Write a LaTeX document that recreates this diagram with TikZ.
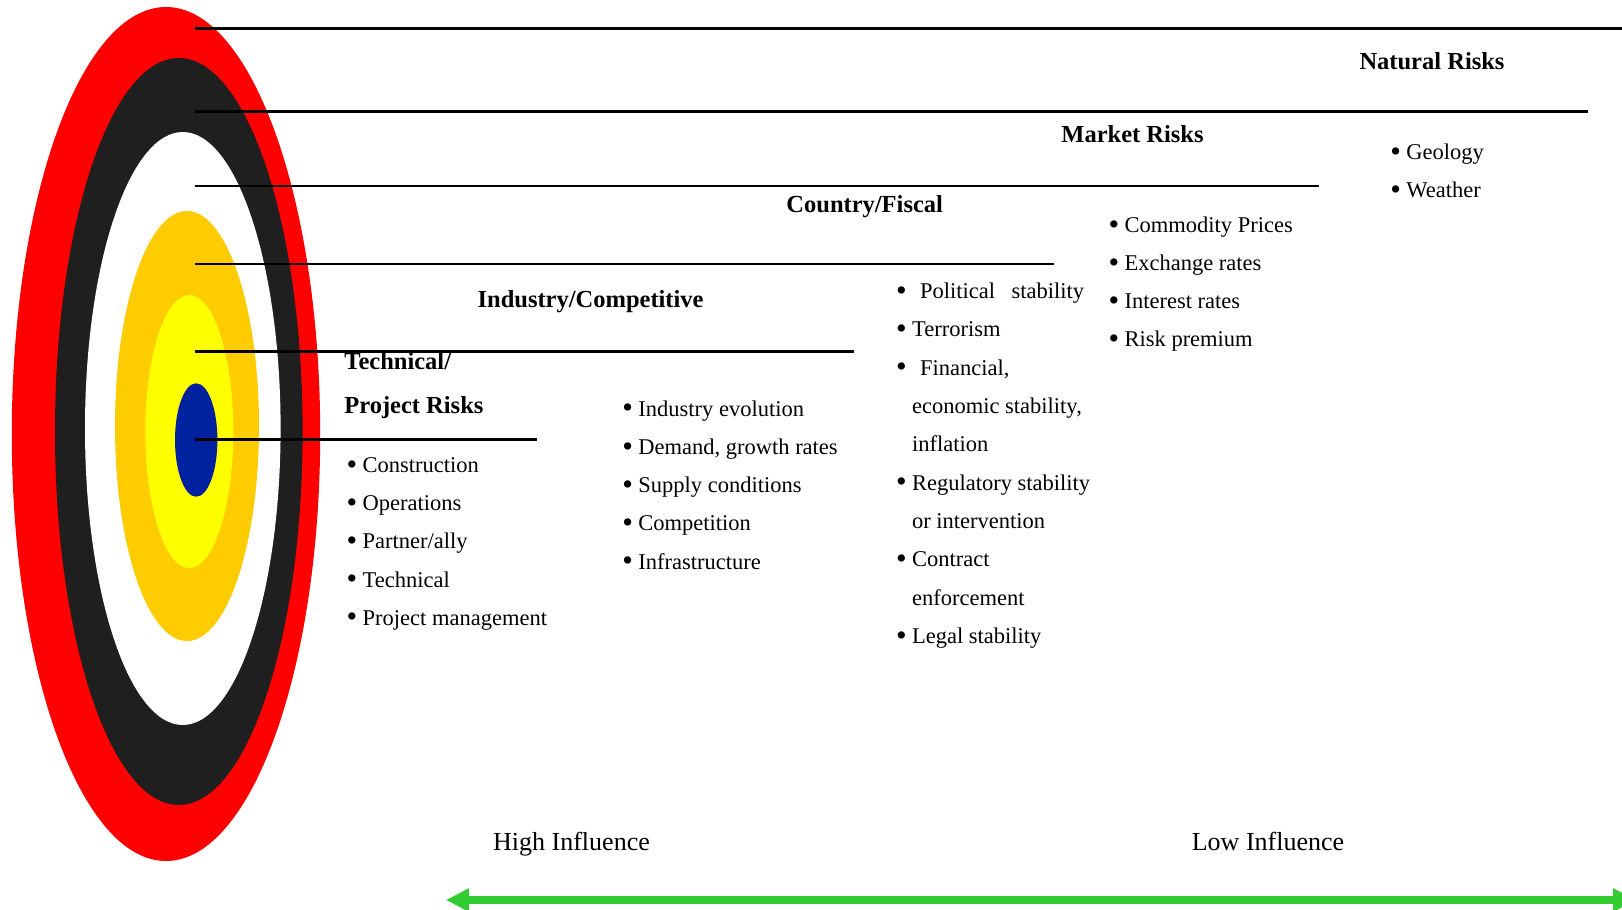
\documentclass[tikz,border=0pt]{standalone}
\usepackage{fontspec}
\usepackage{graphicx}
\setmainfont{Liberation Serif}
\usetikzlibrary{arrows.meta}

\definecolor{ringred}{HTML}{FF0000}
\definecolor{ringblack}{HTML}{1F1F1F}
\definecolor{ringgold}{HTML}{FFCC00}
\definecolor{ringyellow}{HTML}{FFFF00}
\definecolor{ringblue}{HTML}{00229E}
\definecolor{scalegreen}{HTML}{33CC33}

% enlarged list bullet in a fixed-width box
\newcommand\itembul{\makebox[8pt][l]{\raisebox{-0.08em}{\scalebox{1.35}{\textbullet}}}}

\begin{document}
\begin{tikzpicture}[x=0.5pt,y=-0.5pt,
  itm/.style={anchor=base west, inner sep=0pt, font=\fontsize{11.25pt}{13pt}\selectfont},
  hdr/.style={anchor=base, inner sep=0pt, font=\fontsize{12.25pt}{14pt}\selectfont\bfseries},
  hdrl/.style={hdr, anchor=base west},
  infl/.style={anchor=base, inner sep=0pt, font=\fontsize{13pt}{15pt}\selectfont},
  rule/.style={draw=black, line width=1.4pt},
  scale arrow/.style={draw=scalegreen, line width=4pt,
    {Triangle[length=11.5pt,width=11pt]}-{Triangle[length=11.5pt,width=11pt]}}]

\clip (0,0) rectangle (1622,910);

% target rings, outermost first
\fill[ringred]    (166,434)     ellipse [x radius=77.1pt, y radius=213.5pt];
\fill[ringblack]  (178.8,431.5) ellipse [x radius=61.9pt, y radius=186.75pt];
\fill[white]      (182.8,428.5) ellipse [x radius=48.9pt, y radius=148.25pt];
\fill[ringgold]   (187,426)     ellipse [x radius=36pt,   y radius=107.5pt];
\fill[ringyellow] (189.3,431.5) ellipse [x radius=22pt,   y radius=68.25pt];
\fill[ringblue]   (196.2,440)   ellipse [x radius=10.6pt, y radius=28.35pt];

% band boundaries
\coordinate (r1a) at (195,28.3);   \coordinate (r1b) at (1640,28.3);
\coordinate (r2a) at (195,111.7);  \coordinate (r2b) at (1588.3,111.7);
\coordinate (r3a) at (195,186);    \coordinate (r3b) at (1319.3,186);
\coordinate (r4a) at (195,264);    \coordinate (r4b) at (1054.3,264);
\coordinate (r5a) at (195,351.7);  \coordinate (r5b) at (854,351.7);
\coordinate (r6a) at (195,439.3);  \coordinate (r6b) at (537.3,439.3);
\draw[rule] (r1a) -- (r1b);
\draw[rule] (r2a) -- (r2b);
\draw[rule] (r3a) -- (r3b);
\draw[rule] (r4a) -- (r4b);
\draw[rule] (r5a) -- (r5b);
\draw[rule] (r6a) -- (r6b);

% headings
\node[hdr]  (natural)  at (1432,69.3)   {Natural Risks};
\node[hdr]  (market)   at (1132.5,142.7) {Market Risks};
\node[hdr]  (country)  at (864.7,212.3) {Country/Fiscal};
\node[hdr]  (industry) at (590.6,307)   {Industry/Competitive};
\node[hdrl] (tech1)    at (344,369.3)   {Technical/};
\node[hdrl] (tech2)    at (344,413.3)   {Project Risks};

% technical / project risks
\node[itm] (t1) at (346.3,472.7) {\itembul Construction};
\node[itm] (t2) at (346.3,510.8) {\itembul Operations};
\node[itm] (t3) at (346.3,548.9) {\itembul Partner/ally};
\node[itm] (t4) at (346.3,587.0) {\itembul Technical};
\node[itm] (t5) at (346.3,625.1) {\itembul Project management};

% industry / competitive
\node[itm] (i1) at (622,416)   {\itembul Industry evolution};
\node[itm] (i2) at (622,454.3) {\itembul Demand, growth rates};
\node[itm] (i3) at (622,492.5) {\itembul Supply conditions};
\node[itm] (i4) at (622,530.8) {\itembul Competition};
\node[itm] (i5) at (622,569)   {\itembul Infrastructure};

% country / fiscal
\node[itm] (c1)  at (895.7,298.3) {\itembul\hspace{4pt}\makebox[82pt][s]{Political\hfill stability}};
\node[itm] (c2)  at (895.7,336.6) {\itembul Terrorism};
\node[itm] (c3)  at (895.7,375)   {\itembul\hspace{4pt}Financial,};
\node[itm] (c3b) at (911.7,413.3) {economic stability,};
\node[itm] (c3c) at (911.7,451.7) {inflation};
\node[itm] (c4)  at (895.7,490)   {\itembul Regulatory stability};
\node[itm] (c4b) at (911.7,528.3) {or intervention};
\node[itm] (c5)  at (895.7,566.7) {\itembul Contract};
\node[itm] (c5b) at (911.7,605)   {enforcement};
\node[itm] (c6)  at (895.7,643.3) {\itembul Legal stability};

% market
\node[itm] (m1) at (1108.2,232.3) {\itembul Commodity Prices};
\node[itm] (m2) at (1108.2,270.5) {\itembul Exchange rates};
\node[itm] (m3) at (1108.2,308.8) {\itembul Interest rates};
\node[itm] (m4) at (1108.2,346.7) {\itembul Risk premium};

% natural
\node[itm] (n1) at (1390,159.3) {\itembul Geology};
\node[itm] (n2) at (1390,197.3) {\itembul Weather};

% influence scale
\node[infl] (high) at (571.5,850) {High Influence};
\node[infl] (low)  at (1268,850)  {Low Influence};
\coordinate (sL) at (446,900);
\coordinate (sR) at (1636,900);
\draw[scale arrow] (sL) -- (sR);

\end{tikzpicture}
\end{document}
